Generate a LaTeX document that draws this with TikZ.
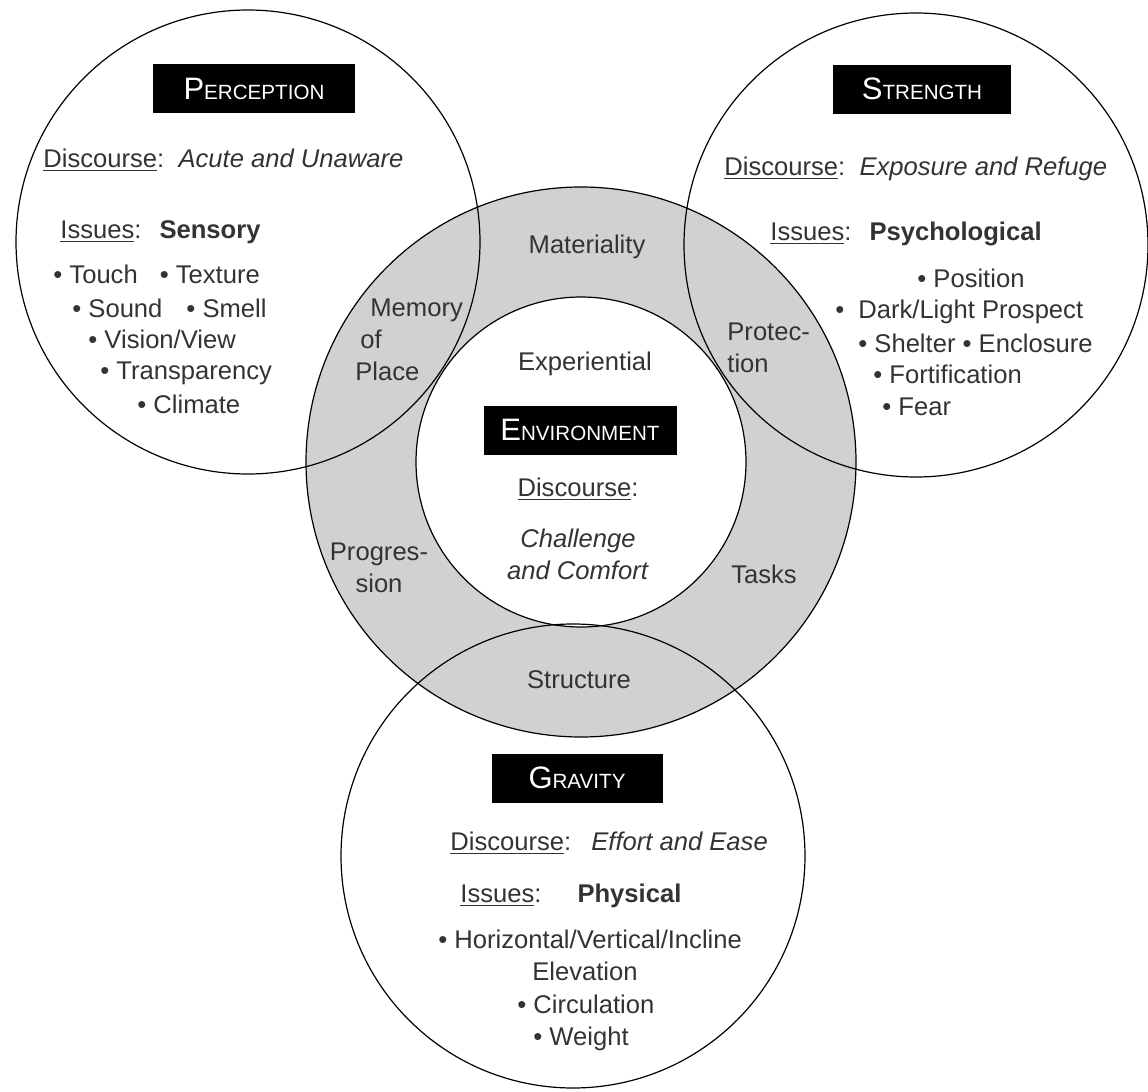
\documentclass[tikz,border=0pt]{standalone}
\usepackage{fontspec}
\setmainfont{Liberation Sans}

\definecolor{ringgray}{gray}{0.82}
\definecolor{inkgray}{gray}{0.2}
\newcommand{\capsname}[2]{{\fontsize{15.5}{16}\selectfont #1}{\fontsize{10.3}{12}\selectfont #2}}
\newcommand{\disc}{\underline{Discourse}:}
\newcommand{\iss}{\underline{Issues}:}

\begin{document}
\begin{tikzpicture}[x=0.5pt,y=-0.5pt,
    txt/.style={text=inkgray,inner sep=0pt,font=\fontsize{12.8}{16}\selectfont},
    lefttxt/.style={txt,anchor=base west},
    midtxt/.style={txt,anchor=base},
    titlebox/.style={fill=black,text=white,inner sep=0pt,minimum height=24.5pt},
    outline/.style={line width=0.6pt}]
    \fill[white] (0,0) rectangle (1148,1092);
    \useasboundingbox (0,0) rectangle (1148,1092);

    \coordinate (percC) at (248,242);
    \coordinate (strC) at (916,245);
    \coordinate (envC) at (581,462);
    \coordinate (gravC) at (573,856);

    \fill[ringgray,even odd rule] (envC) circle[radius=275] (envC) circle[radius=165];
    \draw[outline] (envC) circle[radius=275];
    \draw[outline] (envC) circle[radius=165];
    \draw[outline] (percC) circle[radius=232];
    \draw[outline] (strC) circle[radius=232];
    \draw[outline] (gravC) circle[radius=232];

    \node[titlebox,minimum width=101pt] (percTitle) at (254,88.5) {\capsname{P}{ERCEPTION}};
    \node[lefttxt] (percDisc) at (43,167) {\disc\ \ \textit{Acute and Unaware}};
    \node[lefttxt] (percIss) at (60,238) {\iss\hspace{9pt}\textbf{Sensory}};
    \node[lefttxt] (percA) at (53,283) {\textbullet\ Touch\hspace{11pt}\textbullet\ Texture};
    \node[lefttxt] (percB) at (72,317) {\textbullet\ Sound\hspace{12pt}\textbullet\ Smell};
    \node[lefttxt] (percC1) at (88,348) {\textbullet\ Vision/View};
    \node[lefttxt] (percD) at (100,379) {\textbullet\ Transparency};
    \node[lefttxt] (percE) at (137,413) {\textbullet\ Climate};

    \node[titlebox,minimum width=89pt] (strTitle) at (922,89) {\capsname{S}{TRENGTH}};
    \node[lefttxt] (strDisc) at (724,175) {\disc\ \ \textit{Exposure and Refuge}};
    \node[lefttxt] (strIss) at (770,240) {\iss\hspace{9pt}\textbf{Psychological}};
    \node[lefttxt] (strA) at (917,287) {\textbullet\ Position};
    \node[lefttxt] (strB) at (835,318) {\textbullet\hspace{7pt}Dark/Light Prospect};
    \node[lefttxt] (strC1) at (858,352) {\textbullet\ Shelter \textbullet\ Enclosure};
    \node[lefttxt] (strD) at (873,383) {\textbullet\ Fortification};
    \node[lefttxt] (strE) at (882,415) {\textbullet\ Fear};

    \node[midtxt] (materiality) at (587,253) {Materiality};
    \node[lefttxt,align=left] (memory) at (355,380) {\hspace*{7.5pt}Memory\\\hspace*{2.5pt}of\\Place};
    \node[lefttxt,align=left] (protection) at (727,372) {Protec-\\tion};
    \node[midtxt] (experiential) at (585,370) {Experiential};
    \node[titlebox,minimum width=96.5pt] (envTitle) at (580,430) {\capsname{E}{NVIRONMENT}};
    \node[midtxt] (envDisc) at (578,496) {\disc};
    \node[midtxt,align=center] (envTheme) at (578,579) {\textit{Challenge}\\\textit{and Comfort}};
    \node[midtxt,align=center] (progression) at (379,592) {Progres-\\sion};
    \node[midtxt] (tasks) at (764,583) {Tasks};
    \node[midtxt] (structure) at (579,688) {Structure};

    \node[titlebox,minimum width=85.5pt] (gravTitle) at (577,778) {\capsname{G}{RAVITY}};
    \node[lefttxt] (gravDisc) at (450,850) {\disc\hspace{10pt}\textit{Effort and Ease}};
    \node[lefttxt] (gravIss) at (460,902) {\iss\hspace{18pt}\textbf{Physical}};
    \node[lefttxt] (gravA) at (438,948) {\textbullet\ Horizontal/Vertical/Incline};
    \node[midtxt] (gravB) at (585,980) {Elevation};
    \node[lefttxt] (gravC1) at (517,1013) {\textbullet\ Circulation};
    \node[lefttxt] (gravD) at (533,1045) {\textbullet\ Weight};
\end{tikzpicture}
\end{document}
